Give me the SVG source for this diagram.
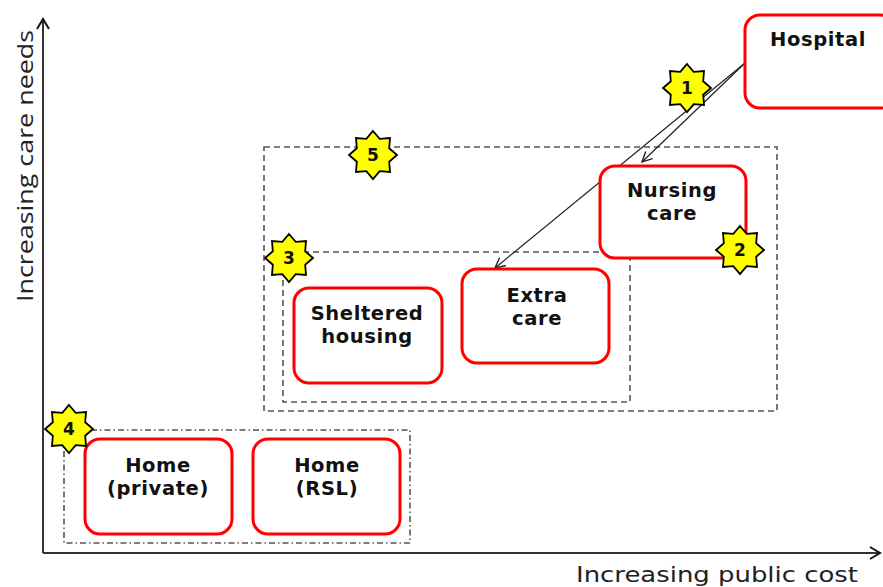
<svg xmlns="http://www.w3.org/2000/svg" width="883" height="587" viewBox="0 0 883 587">
<style>
.node{fill:#fff;stroke:#ff0000;stroke-width:3}
.lbl{font-family:"DejaVu Sans",Verdana,sans-serif;font-weight:bold;font-size:19.5px;fill:#111;text-anchor:middle;letter-spacing:0.6px}
.axis{stroke:#333;stroke-width:2;fill:none}
.axlbl{font-family:"DejaVu Sans",Verdana,sans-serif;font-size:21px;fill:#222;text-anchor:middle}
.axlblv{font-family:"Open Sans","DejaVu Sans",sans-serif;font-size:22px;fill:#222;text-anchor:middle}
.grp{fill:none;stroke:#555;stroke-width:1.6;stroke-dasharray:6 4}
.grp4{fill:none;stroke:#555;stroke-width:1.6;stroke-dasharray:6 3 1.5 3}
.conn{stroke:#222;stroke-width:1.2;fill:none}
.star{fill:#ffff00;stroke:#000;stroke-width:1.8;stroke-linejoin:miter}
.num{font-family:"DejaVu Sans",Verdana,sans-serif;font-weight:bold;font-size:17px;fill:#111;text-anchor:middle}
</style>
<defs>
<marker id="arr" viewBox="0 0 12 12" refX="11" refY="6" markerWidth="12" markerHeight="12" markerUnits="userSpaceOnUse" orient="auto">
<path d="M1,1 L11,6 L1,11" fill="none" stroke="#222" stroke-width="1.4"/>
</marker>
<marker id="axarr" viewBox="0 0 14 14" refX="12" refY="7" markerWidth="14" markerHeight="14" markerUnits="userSpaceOnUse" orient="auto">
<path d="M2,1 L12,7 L2,13" fill="none" stroke="#111" stroke-width="2"/>
</marker>
<path id="starShape" d="M0,-24 L6.7,-16.2 L17,-17 L16.2,-6.7 L24,0 L16.2,6.7 L17,17 L6.7,16.2 L0,24 L-6.7,16.2 L-17,17 L-16.2,6.7 L-24,0 L-16.2,-6.7 L-17,-17 L-6.7,-16.2 Z"/>
</defs>
<rect width="883" height="587" fill="#fff"/>

<g id="axes">
<line class="axis" x1="43" y1="553" x2="43" y2="19" marker-end="url(#axarr)"/>
<line class="axis" x1="43" y1="553" x2="880" y2="553" marker-end="url(#axarr)"/>
<text class="axlblv" transform="translate(33,166) rotate(-90)" textLength="272" lengthAdjust="spacingAndGlyphs">Increasing care needs</text>
<text class="axlbl" x="717" y="582" textLength="282" lengthAdjust="spacingAndGlyphs">Increasing public cost</text>
</g>

<g id="groups">
<rect id="group5" class="grp" x="264" y="147" width="513" height="264"/>
<rect id="group3" class="grp" x="283" y="252" width="347" height="150"/>
<rect id="group4" class="grp4" x="64" y="430" width="346" height="113"/>
</g>

<g id="connectors">
<line class="conn" x1="745" y1="63" x2="642" y2="162" marker-end="url(#arr)"/>
<line class="conn" x1="745" y1="63" x2="495" y2="268" marker-end="url(#arr)"/>
</g>

<g id="hospital">
<rect class="node" x="745" y="15" width="150" height="93" rx="15"/>
<text class="lbl" x="818" y="46">Hospital</text>
</g>
<g id="nursing-care">
<rect class="node" x="600" y="166" width="146" height="92" rx="15"/>
<text class="lbl" x="672" y="197">Nursing</text>
<text class="lbl" x="672" y="220">care</text>
</g>
<g id="extra-care">
<rect class="node" x="462" y="269" width="147" height="94" rx="15"/>
<text class="lbl" x="537" y="302">Extra</text>
<text class="lbl" x="537" y="325">care</text>
</g>
<g id="sheltered-housing">
<rect class="node" x="294" y="288" width="148" height="95" rx="15"/>
<text class="lbl" x="367" y="320">Sheltered</text>
<text class="lbl" x="367" y="343">housing</text>
</g>
<g id="home-private">
<rect class="node" x="85" y="439" width="147" height="95" rx="15"/>
<text class="lbl" x="158" y="472">Home</text>
<text class="lbl" x="158" y="495">(private)</text>
</g>
<g id="home-rsl">
<rect class="node" x="253" y="439" width="147" height="95" rx="15"/>
<text class="lbl" x="327" y="472">Home</text>
<text class="lbl" x="327" y="495">(RSL)</text>
</g>

<g id="star1"><use href="#starShape" class="star" x="687" y="88"/><text class="num" x="687" y="94">1</text></g>
<g id="star2"><use href="#starShape" class="star" x="740" y="250"/><text class="num" x="740" y="256">2</text></g>
<g id="star3"><use href="#starShape" class="star" x="289" y="258"/><text class="num" x="289" y="264">3</text></g>
<g id="star4"><use href="#starShape" class="star" x="69" y="429"/><text class="num" x="69" y="435">4</text></g>
<g id="star5"><use href="#starShape" class="star" x="373" y="155"/><text class="num" x="373" y="161">5</text></g>
</svg>
